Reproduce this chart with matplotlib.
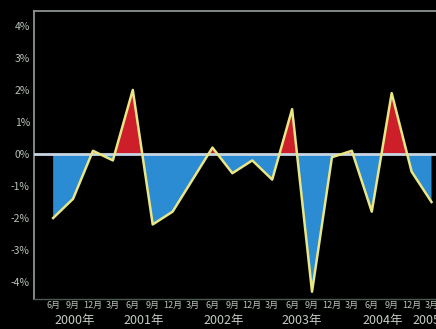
import numpy as np
import matplotlib
matplotlib.use('Agg')
import matplotlib.pyplot as plt

plt.rcParams['font.family'] = ['Noto Sans CJK JP', 'DejaVu Sans']

# quarterly change, 2000 Jun .. 2005 Mar (%)
months = ['6月', '9月', '12月', '3月', '6月', '9月', '12月', '3月', '6月', '9月',
          '12月', '3月', '6月', '9月', '12月', '3月', '6月', '9月', '12月', '3月']
values = [-2.0, -1.4, 0.1, -0.2, 2.0, -2.2, -1.8, -0.8, 0.2, -0.6,
          -0.2, -0.8, 1.4, -4.3, -0.1, 0.1, -1.8, 1.9, -0.55, -1.5]
years = ['2000年', '2001年', '2002年', '2003年', '2004年', '2005年']
year_pos = [1.1, 4.55, 8.55, 12.5, 16.55, 19.05]
yticks = [4, 3, 2, 1, 0, -1, -2, -3, -4]

x = np.arange(len(values))
y = np.array(values)

fig = plt.figure(figsize=(4.36, 3.29), dpi=100, facecolor='black')
ax = fig.add_axes([0.078, 0.091, 0.93, 0.876], facecolor='black')

# red above zero, blue below, clipped at the crossings
ax.fill_between(x, y, 0, where=y >= 0, interpolate=True, color='#cc1f2a', lw=0)
ax.fill_between(x, y, 0, where=y <= 0, interpolate=True, color='#2b8bd3', lw=0)
ax.axhline(0, color='#c8d6e4', lw=2, zorder=3)
ax.plot(x, y, color='#e9e685', lw=1.8, zorder=4)

ax.set_xlim(-0.96, 19.4)
ax.set_ylim(-4.53, 4.47)

ax.set_yticks(yticks)
ax.set_yticklabels(['%d%%' % v for v in yticks])
ax.set_xticks(x)
ax.set_xticklabels(months)
ax.tick_params(axis='y', length=0, pad=3, labelsize=7.5, labelcolor='#b8c4b8')
ax.tick_params(axis='x', length=0, pad=1.5, labelsize=6.5, labelcolor='#b8c4b8')

for yr, p in zip(years, year_pos):
    ax.text(p, -0.075, yr, transform=ax.get_xaxis_transform(), ha='center', va='center',
            fontsize=9, color='#c4ccc4', clip_on=False)

for side in ['top', 'left']:
    ax.spines[side].set_color('#8a9490')
    ax.spines[side].set_linewidth(1.3)
ax.spines['bottom'].set_color('#4a5a50')
ax.spines['bottom'].set_linewidth(1)
ax.spines['right'].set_visible(False)

fig.savefig('out.png', dpi=100, facecolor='black')
